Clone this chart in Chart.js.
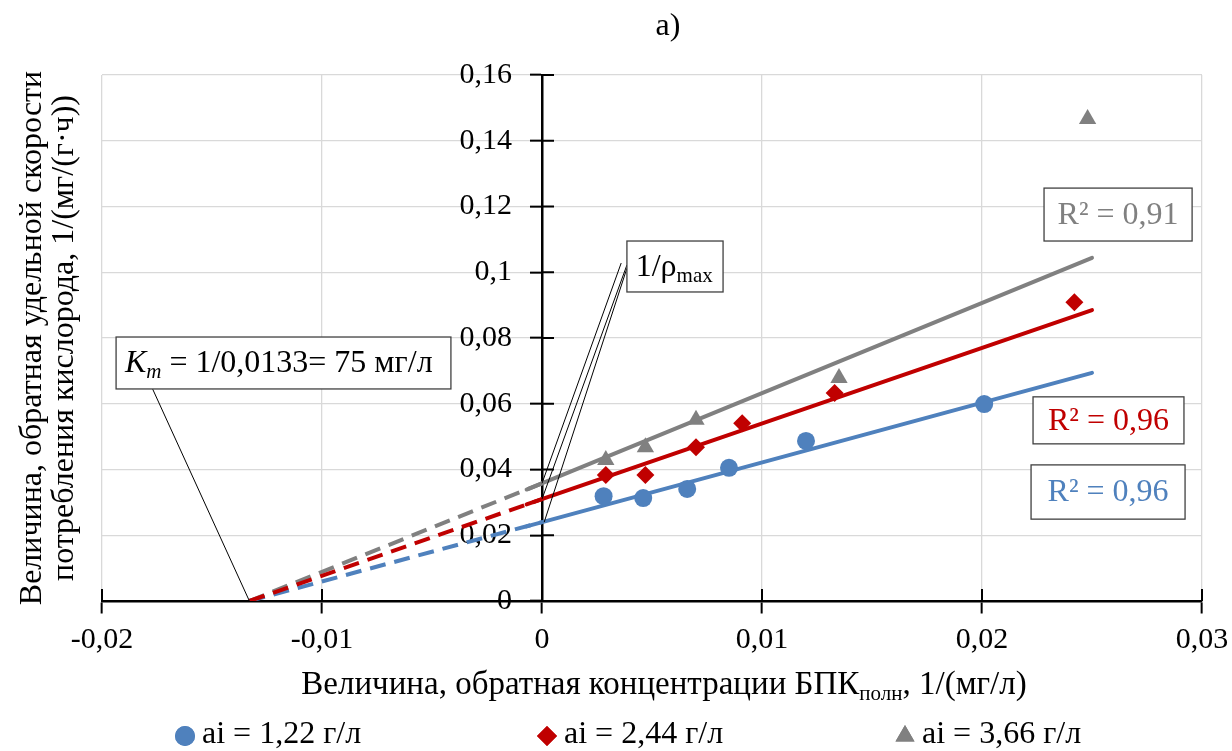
<!DOCTYPE html>
<html>
<head>
<meta charset="utf-8">
<script src="https://cdn.jsdelivr.net/npm/chart.js@4.4.1/dist/chart.umd.min.js"></script>
<style>
  html, body { margin: 0; padding: 0; background: #fff; }
  #wrap { width: 1232px; height: 751px; }
</style>
</head>
<body>
<div id="wrap"><canvas id="chart"></canvas></div>
<script>
// values
const blueX = [0.0028, 0.0046, 0.0066, 0.0085, 0.0120, 0.0201];
const blueY = [0.0319, 0.0313, 0.0341, 0.0405, 0.0487, 0.0599];
const redX = [0.0029, 0.0047, 0.0070, 0.0091, 0.0133, 0.0242];
const redY = [0.0383, 0.0383, 0.0468, 0.0541, 0.0633, 0.0909];
const grayX = [0.0029, 0.0047, 0.0070, 0.0135, 0.0248];
const grayY = [0.0429, 0.0468, 0.0551, 0.0678, 0.1466];

const seriesLabels = ['ai = 1,22 г/л', 'ai = 2,44 г/л', 'ai = 3,66 г/л'];

// trend lines (solid from x = 0) and their dashed extension back to -1/Km
const trendX = [-0.0007, 0.025];
const blueTrend = [0.0227, 0.0694];
const redTrend = [0.0294, 0.0885];
const grayTrend = [0.0339, 0.1044];
const dashX = [-0.0133, 0];
const blueDash = [0, 0.0240];
const redDash = [0, 0.0310];
const grayDash = [0, 0.0358];

const r2Labels = ['R² = 0,96', 'R² = 0,96', 'R² = 0,91'];

const xTickVals = [-0.02, -0.01, 0, 0.01, 0.02, 0.03];
const yTickVals = [0, 0.02, 0.04, 0.06, 0.08, 0.1, 0.12, 0.14, 0.16];

const BLUE = '#4f81bd', RED = '#c00000', GRAY = '#808080';
const FONT = 'Liberation Serif';
Chart.defaults.font.family = FONT;
Chart.defaults.color = '#000';

const pts = (xs, ys) => xs.map((x, i) => ({x, y: ys[i]}));
const fmt = v => String(Number(v.toFixed(4))).replace('.', ',');

// rich text: runs of {t, it, sub}
function runFont(r, size) {
  const s = r.sub ? Math.round(size * 0.65) : size;
  return (r.it ? 'italic ' : '') + s + 'px "' + FONT + '"';
}
function runsWidth(ctx, runs, size) {
  let w = 0;
  runs.forEach(r => { ctx.font = runFont(r, size); w += ctx.measureText(r.t).width; });
  return w;
}
function drawRuns(ctx, runs, x, y, size, color) {
  // x = left, y = middle line
  ctx.fillStyle = color;
  ctx.textBaseline = 'middle';
  ctx.textAlign = 'left';
  runs.forEach(r => {
    ctx.font = runFont(r, size);
    ctx.fillText(r.t, x, r.sub ? y + size * 0.28 : y);
    x += ctx.measureText(r.t).width;
  });
}

// callout boxes, placed in data units
const notes = [
  {x1: -0.01936, x2: -0.00414, y1: 0.0803, y2: 0.0645, color: '#000', size: 32, left: 0.0004,
   runs: [{t: 'K', it: true}, {t: 'm', it: true, sub: true}, {t: ' = 1/0,0133= 75 мг/л'}]},
  {x1: 0.00386, x2: 0.00823, y1: 0.1095, y2: 0.0940, color: '#000', size: 32, left: 0.0004,
   runs: [{t: '1/ρ'}, {t: 'max', sub: true}]},
  {x1: 0.02282, x2: 0.02955, y1: 0.1256, y2: 0.1095, color: GRAY, size: 32, runs: [{t: r2Labels[2]}]},
  {x1: 0.02232, x2: 0.02918, y1: 0.0621, y2: 0.0478, color: RED, size: 32, runs: [{t: r2Labels[1]}]},
  {x1: 0.02223, x2: 0.02923, y1: 0.0414, y2: 0.0249, color: BLUE, size: 32, runs: [{t: r2Labels[0]}]}
];

const decor = {
  id: 'decor',
  beforeDatasetsDraw(chart) {
    // tick labels from the library's ticks, right-aligned left of the crossing y axis
    const ctx = chart.ctx;
    const xs = chart.scales.x, ys = chart.scales.y;
    const ax = xs.getPixelForValue(0), ay = ys.getPixelForValue(0);
    ctx.save();
    ctx.fillStyle = '#000';
    ctx.font = '30px "' + FONT + '"';
    ctx.textBaseline = 'middle';
    ctx.textAlign = 'right';
    ys.ticks.forEach(t => ctx.fillText(fmt(t.value), ax - 30, ys.getPixelForValue(t.value)));
    ctx.textAlign = 'center';
    xs.ticks.forEach(t => ctx.fillText(fmt(t.value), xs.getPixelForValue(t.value), ay + 39));
    ctx.restore();
  },
  afterDraw(chart) {
    const ctx = chart.ctx;
    const xs = chart.scales.x, ys = chart.scales.y;
    const px = v => xs.getPixelForValue(v), py = v => ys.getPixelForValue(v);
    const ax = px(0), ay = py(0);
    ctx.save();

    // inner halves of the crossing tick marks
    ctx.strokeStyle = '#000';
    ctx.lineWidth = 2;
    ctx.beginPath();
    ys.ticks.forEach(t => { ctx.moveTo(ax, py(t.value)); ctx.lineTo(ax + 12, py(t.value)); });
    xs.ticks.forEach(t => { ctx.moveTo(px(t.value), ay); ctx.lineTo(px(t.value), ay - 12); });
    ctx.stroke();

    // callout leader lines
    ctx.lineWidth = 1;
    ctx.beginPath();
    ctx.moveTo(px(-0.0177), py(0.0645)); ctx.lineTo(px(dashX[0]), py(0));
    ctx.moveTo(px(0.0036), py(0.1028)); ctx.lineTo(px(0), py(grayDash[1]));
    ctx.moveTo(px(0.00386), py(0.1022)); ctx.lineTo(px(0), py(redDash[1]));
    ctx.moveTo(px(0.00386), py(0.1012)); ctx.lineTo(px(0.0001), py(blueDash[1]));
    ctx.stroke();

    // boxes
    notes.forEach(n => {
      const l = px(n.x1), r = px(n.x2), t = py(n.y1), b = py(n.y2);
      ctx.fillStyle = '#fff';
      ctx.fillRect(l, t, r - l, b - t);
      ctx.strokeStyle = '#404040';
      ctx.lineWidth = 1.3;
      ctx.strokeRect(l, t, r - l, b - t);
      const w = runsWidth(ctx, n.runs, n.size);
      const tx = n.left !== undefined ? px(n.x1 + n.left) : (l + r - w) / 2;
      drawRuns(ctx, n.runs, tx, (t + b) / 2 + 1, n.size, n.color);
    });

    // title
    ctx.fillStyle = '#000';
    ctx.font = '32px "' + FONT + '"';
    ctx.textAlign = 'center';
    ctx.textBaseline = 'middle';
    ctx.fillText('a)', 668, 27);

    // y axis title
    ctx.save();
    ctx.translate(0, 338);
    ctx.rotate(-Math.PI / 2);
    ctx.font = '32px "' + FONT + '"';
    ctx.fillText('Величина, обратная удельной скорости', 0, 33);
    ctx.fillText('потребления кислорода, 1/(мг/(г·ч))', 0, 65);
    ctx.restore();

    // x axis title
    const xt = [{t: 'Величина, обратная концентрации БПК'}, {t: 'полн', sub: true}, {t: ', 1/(мг/л)'}];
    const xw = runsWidth(ctx, xt, 33);
    drawRuns(ctx, xt, 664 - xw / 2, 685, 33, '#000');

    // legend
    const legX = [185, 547, 905];
    for (let i = 0; i < 3; i++) {
      const ds = chart.data.datasets[i];
      ctx.fillStyle = ds.backgroundColor;
      ctx.strokeStyle = ds.borderColor;
      Chart.helpers.drawPoint(ctx, {pointStyle: ds.pointStyle, radius: ds.pointRadius + 1, borderWidth: 0}, legX[i], 736);
      ctx.fill();
      drawRuns(ctx, [{t: seriesLabels[i]}], legX[i] + 17, 735, 32, '#000');
    }
    ctx.restore();
  }
};

const solid = (data, color) => ({data, showLine: true, borderColor: color, backgroundColor: color,
  borderWidth: 4, pointRadius: 0, borderCapStyle: 'round'});
const dashed = (data, color) => ({data, showLine: true, borderColor: color, backgroundColor: color,
  borderWidth: 4, pointRadius: 0, borderDash: [16, 9]});

new Chart(document.getElementById('chart'), {
  type: 'scatter',
  data: {
    datasets: [
      {label: seriesLabels[0], data: pts(blueX, blueY), pointStyle: 'circle', pointRadius: 9,
       backgroundColor: BLUE, borderColor: BLUE, borderWidth: 0},
      {label: seriesLabels[1], data: pts(redX, redY), pointStyle: 'rectRot', pointRadius: 9,
       backgroundColor: RED, borderColor: RED, borderWidth: 0},
      {label: seriesLabels[2], data: pts(grayX, grayY), pointStyle: 'triangle', pointRadius: 10,
       backgroundColor: GRAY, borderColor: GRAY, borderWidth: 0},
      solid(pts(trendX, grayTrend), GRAY),
      solid(pts(trendX, redTrend), RED),
      solid(pts(trendX, blueTrend), BLUE),
      dashed(pts(dashX, redDash), RED),
      dashed(pts(dashX, blueDash), BLUE),
      dashed(pts(dashX, grayDash), GRAY)
    ]
  },
  options: {
    responsive: true,
    maintainAspectRatio: false,
    animation: false,
    events: [],
    layout: {padding: {left: 102, right: 30, top: 75, bottom: 150}},
    plugins: {legend: {display: false}, title: {display: false}, tooltip: {enabled: false}},
    scales: {
      x: {
        type: 'linear', min: -0.02, max: 0.03, position: {y: 0},
        afterBuildTicks: s => { s.ticks = xTickVals.map(v => ({value: v})); },
        ticks: {display: false},
        grid: {color: '#d9d9d9', lineWidth: 1.3, tickColor: '#000', tickLength: 11, tickWidth: 2},
        border: {color: '#000', width: 2.5}
      },
      y: {
        type: 'linear', min: 0, max: 0.16, position: {x: 0},
        afterBuildTicks: s => { s.ticks = yTickVals.map(v => ({value: v})); },
        ticks: {display: false},
        grid: {color: '#d9d9d9', lineWidth: 1.3, tickColor: '#000', tickLength: 11, tickWidth: 2},
        border: {color: '#000', width: 2.5}
      }
    }
  },
  plugins: [decor]
});
</script>
</body>
</html>
